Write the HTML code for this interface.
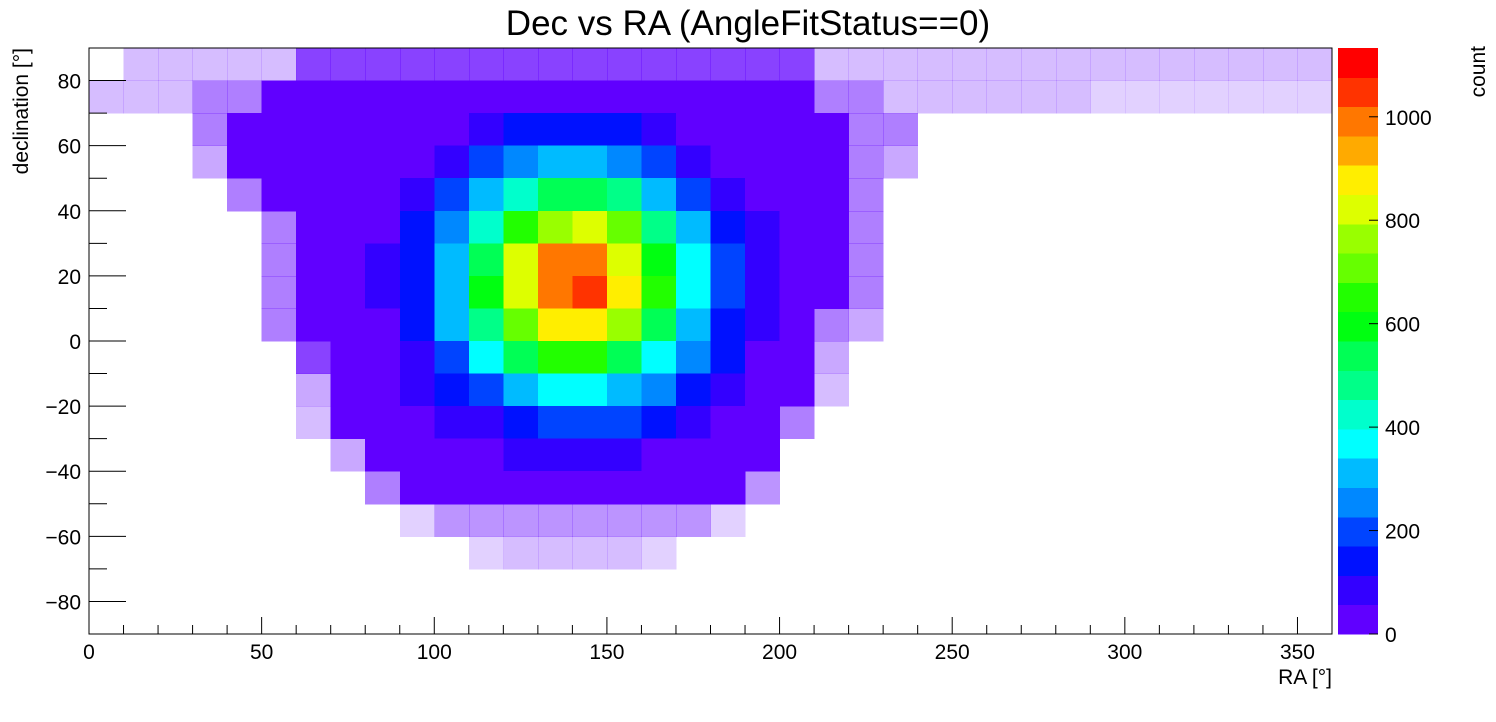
<!DOCTYPE html>
<html><head><meta charset="utf-8"><style>
body{margin:0;background:#fff;}
svg{display:block;font-family:"Liberation Sans",sans-serif;}
</style></head><body>
<svg id="chart" width="1496" height="722" viewBox="0 0 1496 722">
<rect x="0" y="0" width="1496" height="722" fill="#fff"/>
<text x="748" y="35" font-size="35" text-anchor="middle">Dec vs RA (AngleFitStatus==0)</text>
<g id="cells" shape-rendering="crispEdges"></g>
<g id="cbar" shape-rendering="crispEdges"></g>
<g id="axes"></g>
<text x="1332" y="684" font-size="21" text-anchor="end">RA [°]</text>
<text transform="translate(28,48) rotate(-90)" font-size="21" text-anchor="end">declination [°]</text>
<text transform="translate(1485,46) rotate(-90)" font-size="21" text-anchor="end">count</text>
</svg>
<script>
// Data: 10° x 10° bins. Rows from dec 80..90 (top) down to -90..-80; columns RA 0..360
const raEdges = [0,10,20,30,40,50,60,70,80,90,100,110,120,130,140,150,160,170,180,190,200,210,220,230,240,250,260,270,280,290,300,310,320,330,340,350,360];
const decEdgesTop = [90,80,70,60,50,40,30,20,10,0,-10,-20,-30,-40,-50,-60,-70,-80];
const row0 = [0,2,2,2,2,2,8,8,8,8,8,8,8,8,8,8,8,8,8,8,8,2,2,2,2,2,2,2,2,2,2,2,2,2,2,2];
const row1 = [2,2,2,5,5,25,25,25,25,25,25,25,25,25,25,25,25,25,25,25,25,5,5,2,2,2,2,2,2,1,1,1,1,1,1,1];
const row2 = [0,0,0,5,30,30,30,30,30,30,47,81,118,144,146,125,89,53,30,30,30,30,5,5];
const row3 = [0,0,0,3,30,30,30,30,30,30,99,171,249,302,308,262,187,112,56,30,30,30,5,3];
const row4 = [0,0,0,0,5,30,30,30,30,84,174,302,439,533,543,462,330,198,99,41,30,30,5];
const row5 = [0,0,0,0,0,5,30,30,50,125,258,446,648,787,801,683,488,292,146,61,30,30,5];
const row6 = [0,0,0,0,0,5,30,30,62,154,318,552,801,974,991,845,603,361,181,76,30,30,5];
const row7 = [0,0,0,0,0,5,30,30,65,160,330,572,830,1009,1027,875,625,374,187,79,30,30,5];
const row8 = [0,0,0,0,0,5,30,30,56,139,286,497,721,875,891,760,543,324,162,68,30,5,3];
const row9 = [0,0,0,0,0,0,8,30,40,101,208,361,523,636,648,552,394,236,118,49,30,3];
const row10 = [0,0,0,0,0,0,3,30,30,61,127,220,318,387,394,336,240,144,72,30,20,2];
const row11 = [0,0,0,0,0,0,2,20,30,35,65,112,162,198,201,171,123,73,37,25,5];
const row12 = [0,0,0,0,0,0,0,3,20,30,30,48,68,84,86,73,52,31,30,10];
const row13 = [0,0,0,0,0,0,0,0,5,25,25,25,25,25,25,25,25,25,25,4];
const row14 = [0,0,0,0,0,0,0,0,0,1,4,4,4,4,4,4,4,4,1];
const row15 = [0,0,0,0,0,0,0,0,0,0,0,1,2,2,2,2,1];
const row16 = [];
const row17 = [];
const xTicks = [0,50,100,150,200,250,300,350];
const yTicks = [-80,-60,-40,-20,0,20,40,60,80];
const zTicks = [0,200,400,600,800,1000];
const zMax = 1133;
const palette = ["#6000ff","#3300ff","#0011ff","#0044ff","#0088ff","#00bbff","#00ffff","#00ffcc","#00ff88","#00ff55","#00ff11","#22ff00","#66ff00","#99ff00","#ddff00","#ffee00","#ffaa00","#ff7700","#ff3300","#ff0000"];

const rows=[row0,row1,row2,row3,row4,row5,row6,row7,row8,row9,row10,row11,row12,row13,row14,row15,row16,row17];
const NS="http://www.w3.org/2000/svg";
const PX0=89,PX1=1332,PY0=48,PY1=634;
const xS=v=>PX0+(v-0)/360*(PX1-PX0);
const yS=v=>PY0+(90-v)/180*(PY1-PY0);
const CB0=1338,CB1=1378;
const zS=v=>PY1-v/zMax*(PY1-PY0);
function mk(tag,attrs,parent){const e=document.createElementNS(NS,tag);for(const k in attrs)e.setAttribute(k,attrs[k]);parent.appendChild(e);return e;}
function colorOf(c){let i=Math.floor(c/zMax*palette.length);if(i<0)i=0;if(i>=palette.length)i=palette.length-1;return palette[i];}

const cells=document.getElementById('cells');
rows.forEach((r,ri)=>{
  for(let ci=0;ci<36;ci++){
    const c=r[ci]||0; if(c<=0)continue;
    const x0=xS(raEdges[ci]),x1=xS(raEdges[ci+1]);
    const y0=yS(decEdgesTop[ri]),y1=yS(decEdgesTop[ri]-10);
    const op=c<10?(0.1+c*0.08):1;
    const el=mk('rect',{x:x0,y:y0,width:x1-x0+0.5,height:y1-y0+0.5,fill:colorOf(c),'fill-opacity':op},cells);
    
    
  }
});

const cbar=document.getElementById('cbar');
palette.forEach((col,i)=>{
  const lo=i*zMax/palette.length,hi=(i+1)*zMax/palette.length;
  const el=mk('rect',{x:CB0,y:zS(hi),width:CB1-CB0,height:zS(lo)-zS(hi)+0.5,fill:col},cbar);
  
  
});

const axes=document.getElementById('axes');
const frame=mk('rect',{x:PX0,y:PY0,width:PX1-PX0,height:PY1-PY0,fill:'none',stroke:'#000','stroke-width':1},axes);


for(let v=0;v<=360;v+=10){
  const major=v%50===0;
  const t=mk('line',{x1:xS(v),x2:xS(v),y1:PY1,y2:PY1-(major?17:9),stroke:'#000'},axes);
  
  
}
xTicks.forEach(v=>{
  const t=mk('text',{x:xS(v),y:659,'font-size':21,'text-anchor':'middle'},axes);
  t.textContent=v;
  
  
});
for(let v=-90;v<=90;v+=10){
  const major=v%20===0;
  const t=mk('line',{x1:PX0,x2:PX0+(major?37:18),y1:yS(v),y2:yS(v),stroke:'#000'},axes);
  
  
}
yTicks.forEach(v=>{
  const t=mk('text',{x:81,y:yS(v)+8,'font-size':21,'text-anchor':'end'},axes);
  t.textContent=v<0?'\u2212'+(-v):v;
  
  
});
zTicks.forEach(v=>{
  const t=mk('line',{x1:CB1-9,x2:CB1,y1:zS(v),y2:zS(v),stroke:'#000'},axes);
  
  
  const l=mk('text',{x:1385,y:zS(v)+8,'font-size':21,'text-anchor':'start'},axes);
  l.textContent=v;
  
  
});
</script>
</body></html>
